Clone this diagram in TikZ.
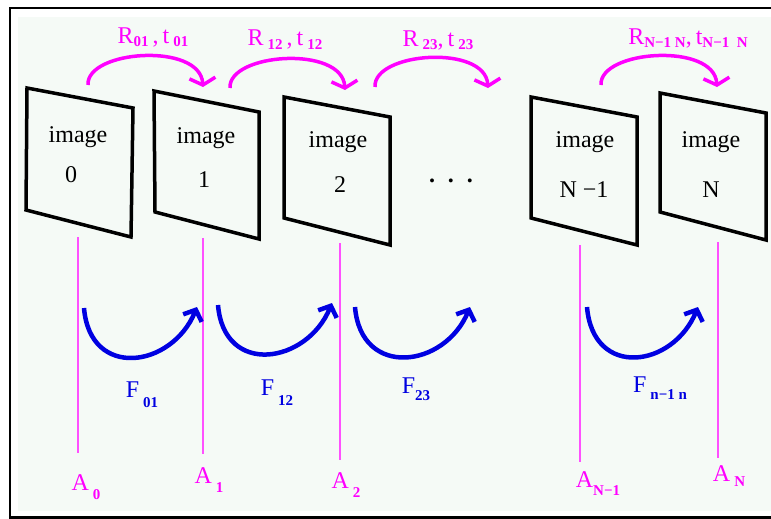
\documentclass[tikz,border=0pt]{standalone}
\usepackage{fontspec}
\setmainfont{Liberation Serif}
\usepackage{xcolor}
\usetikzlibrary{arrows.meta}
\definecolor{rtmag}{RGB}{255,0,255}
\definecolor{axmag}{RGB}{255,80,255}
\definecolor{fblue}{RGB}{0,0,225}
\definecolor{paper}{RGB}{245,250,246}
\newcommand{\lsub}[2][4pt]{\raisebox{-#1}{\fontsize{15}{15}\selectfont\bfseries #2}}
\tikzset{
  imgframe/.style = {line width=3.5pt,line join=miter},
  rtarr/.style    = {-{Straight Barb[length=7pt,width=26pt]},line width=3.5pt,rtmag},
  farr/.style     = {-{Straight Barb[length=9pt,width=20pt]},line width=4.5pt,fblue},
  axline/.style   = {axmag,line width=1.5pt},
  imgtext/.style  = {anchor=base,inner sep=0pt,font=\fontsize{24}{24}\selectfont},
  rtlbl/.style    = {anchor=base,inner sep=0pt,rtmag,font=\fontsize{24}{24}\selectfont},
  flbl/.style     = {anchor=base,inner sep=0pt,fblue,font=\fontsize{24}{24}\selectfont},
  albl/.style     = {anchor=base,inner sep=0pt,rtmag,font=\fontsize{24}{24}\selectfont}
}
\begin{document}
\begin{tikzpicture}[x=1pt,y=-1pt]
  \useasboundingbox (0,0) rectangle (771,519);
  \fill[white] (0,0) rectangle (771,519);
  \fill[paper] (18,17) rectangle (771,511);
  \draw[line width=2.5pt] (771,8) -- (10,8) -- (10,517.5) -- (771,517.5);

  \draw[imgframe] (27,88) -- (133,108) -- (131,237) -- (26,210) -- cycle;
  \draw[imgframe] (154,91) -- (259,112) -- (259,239) -- (155,212) -- cycle;
  \draw[imgframe] (284,97) -- (390,117) -- (390,245) -- (284,218) -- cycle;
  \draw[imgframe] (531,97) -- (637,117) -- (637,245) -- (531,218) -- cycle;
  \draw[imgframe] (660,93) -- (766,113) -- (766,240) -- (660,212) -- cycle;

  \node[imgtext] (img0) at (78,142) {image};
  \node[imgtext] (num0) at (71,182) {0};
  \node[imgtext] (img1) at (206,143) {image};
  \node[imgtext] (num1) at (204,187) {1};
  \node[imgtext] (img2) at (338,147) {image};
  \node[imgtext] (num2) at (340,192) {2};
  \node[imgtext] (imgm) at (585,147) {image};
  \node[imgtext] (numm) at (584,197) {N −1};
  \node[imgtext] (imgn) at (711,147) {image};
  \node[imgtext] (numn) at (711,197) {N};
  \node[imgtext,font=\fontsize{24}{24}\selectfont\bfseries] (dots) at (451,182) {.\hspace{13pt}.\hspace{13pt}.};

  \coordinate (r0s) at (88,85);   \coordinate (r0e) at (203,87);
  \coordinate (r1s) at (230,88);  \coordinate (r1e) at (345,90);
  \coordinate (r2s) at (375,87);  \coordinate (r2e) at (488,88);
  \coordinate (r3s) at (601,85);  \coordinate (r3e) at (717,87);
  \draw[rtarr] (r0s) .. controls (86,50) and (200,42) .. (r0e);
  \draw[rtarr] (r1s) .. controls (228,53) and (342,45) .. (r1e);
  \draw[rtarr] (r2s) .. controls (373,52) and (485,44) .. (r2e);
  \draw[rtarr] (r3s) .. controls (599,50) and (714,42) .. (r3e);
  \node[rtlbl] (rt01) at (153,44) {R\lsub[3pt]{01}\,,\,t\,\lsub[3pt]{01}};
  \node[rtlbl] (rt12) at (285,46) {R\,\lsub[3pt]{12}\,,\,t\,\lsub[3pt]{12}};
  \node[rtlbl] (rt23) at (438,47) {R\,\lsub[3pt]{23},\,t\,\lsub[3pt]{23}};
  \node[rtlbl] (rtnn) at (688,45) {R\lsub[3pt]{N−1 N},\,t\lsub[3pt]{N−1\ \ N}};

  \coordinate (a0t) at (78,237);  \coordinate (a0b) at (78,453);
  \coordinate (a1t) at (203,238); \coordinate (a1b) at (203,454);
  \coordinate (a2t) at (340,243); \coordinate (a2b) at (340,460);
  \coordinate (amt) at (580,245); \coordinate (amb) at (580,462);
  \coordinate (ant) at (718,242); \coordinate (anb) at (718,458);
  \draw[axline] (a0t) -- (a0b);
  \draw[axline] (a1t) -- (a1b);
  \draw[axline] (a2t) -- (a2b);
  \draw[axline] (amt) -- (amb);
  \draw[axline] (ant) -- (anb);
  \node[albl] (A0) at (86,490) {A\,\lsub[9pt]{0}};
  \node[albl] (A1) at (209,483) {A\,\lsub[9pt]{1}};
  \node[albl] (A2) at (346,488) {A\,\lsub[9pt]{2}};
  \node[albl] (Am) at (598,487) {A\lsub[8pt]{N−1}};
  \node[albl] (An) at (729,481) {A\,\lsub[5pt]{N}};

  \coordinate (f0s) at (84,308);  \coordinate (f0e) at (197,307);
  \coordinate (f1s) at (218,305); \coordinate (f1e) at (332,303);
  \coordinate (f2s) at (355,307); \coordinate (f2e) at (470,307);
  \coordinate (f3s) at (587,307); \coordinate (f3e) at (698,307);
  \draw[farr] (f0s) .. controls (90,380) and (172,368) .. (f0e);
  \draw[farr] (f1s) .. controls (224,377) and (307,364) .. (f1e);
  \draw[farr] (f2s) .. controls (361,379) and (445,368) .. (f2e);
  \draw[farr] (f3s) .. controls (593,379) and (673,368) .. (f3e);
  \node[flbl] (F01) at (142,397) {F\,\lsub[10pt]{01}};
  \node[flbl] (F12) at (277,395) {F\,\lsub[10pt]{12}};
  \node[flbl] (F23) at (416,393) {F\lsub[7pt]{23}};
  \node[flbl] (Fnn) at (660,392) {F\,\lsub[7pt]{n−1 n}};
\end{tikzpicture}
\end{document}
